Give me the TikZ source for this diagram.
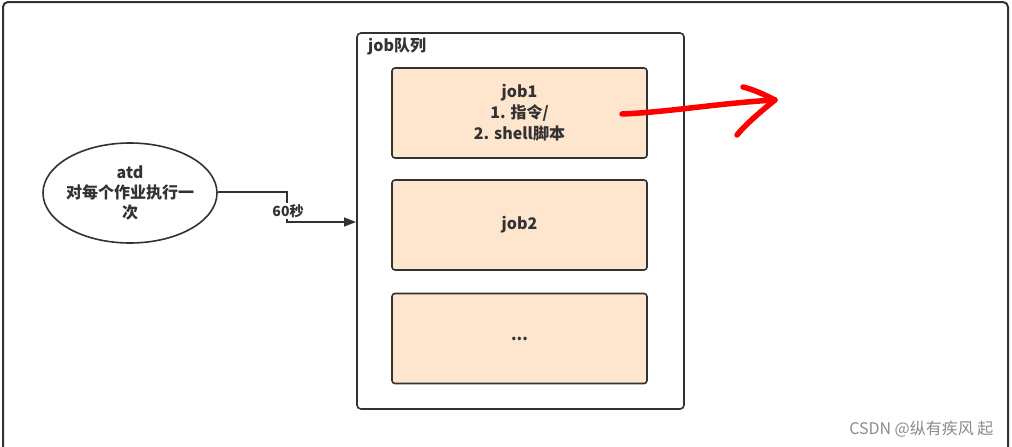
\documentclass[tikz,border=0pt]{standalone}
\usepackage{fontspec}
\setmainfont{Noto Sans CJK SC}
\usetikzlibrary{shapes.geometric,arrows.meta}
\definecolor{peach}{RGB}{253,229,206}
\definecolor{edge}{RGB}{50,50,50}
\definecolor{wm}{RGB}{140,140,140}
\begin{document}
\begin{tikzpicture}[x=1pt,y=-1pt,
  jobbox/.style={draw=edge, line width=1.6pt, fill=peach, rounded corners=3pt,
    minimum width=255pt, minimum height=90pt, align=center,
    font=\fontsize{16}{21}\selectfont\bfseries, text=edge},
  conn/.style={draw=edge, line width=1.6pt}]
\useasboundingbox (0,0) rectangle (1012,447);
\fill[white] (0,0) rectangle (1012,447);
% outer frame
\draw[edge, line width=2pt, rounded corners=5pt] (3,447) -- (3,2) -- (1008,2) -- (1008,447);
% queue
\draw[conn, rounded corners=4pt] (357,33) rectangle (684,409);
\node[anchor=west, font=\fontsize{16}{19}\selectfont\bfseries, text=edge, inner sep=1pt] (qlabel) at (367,46) {job队列};
\node[jobbox] (job1) at (519.5,113) {job1\\1. 指令/\\2. shell脚本};
\node[jobbox] (job2) at (519.5,225) {job2};
\node[jobbox] (job3) at (519.5,338.5) {...};
% atd ellipse
\node[ellipse, draw=edge, line width=1.6pt, minimum width=174pt, minimum height=100pt,
  align=center, font=\fontsize{16}{20}\selectfont\bfseries, text=edge, inner sep=-4pt] (atd) at (130,193)
  {atd\\对每个作业执行一\\次};
% connector
\coordinate (bend) at (287,192);
\coordinate (target) at (356,222);
\draw[conn, -{Triangle[length=12pt,width=9pt]}] (atd.east |- bend) -- (bend) -- (bend |- target) -- (target);
\node[fill=white, inner sep=1pt, font=\fontsize{14}{16}\selectfont\bfseries, text=edge] (lbl) at (288,211) {60秒};
% red hand-drawn arrow
\coordinate (rs) at (622,114);
\coordinate (re) at (775,100);
\draw[red, line width=5.5pt, line cap=round, line join=round]
  (rs) .. controls (670,112) and (720,103) .. (re);
\draw[red, line width=5.5pt, line cap=round, line join=round]
  (743,87) .. controls (755,90) and (765,95) .. (re) .. controls (760,112) and (745,125) .. (737,135);
% watermark
\node[anchor=east, font=\fontsize{16}{19}\selectfont, text=wm] (wmk) at (997,429) {CSDN @纵有疾风 起};
\end{tikzpicture}
\end{document}
